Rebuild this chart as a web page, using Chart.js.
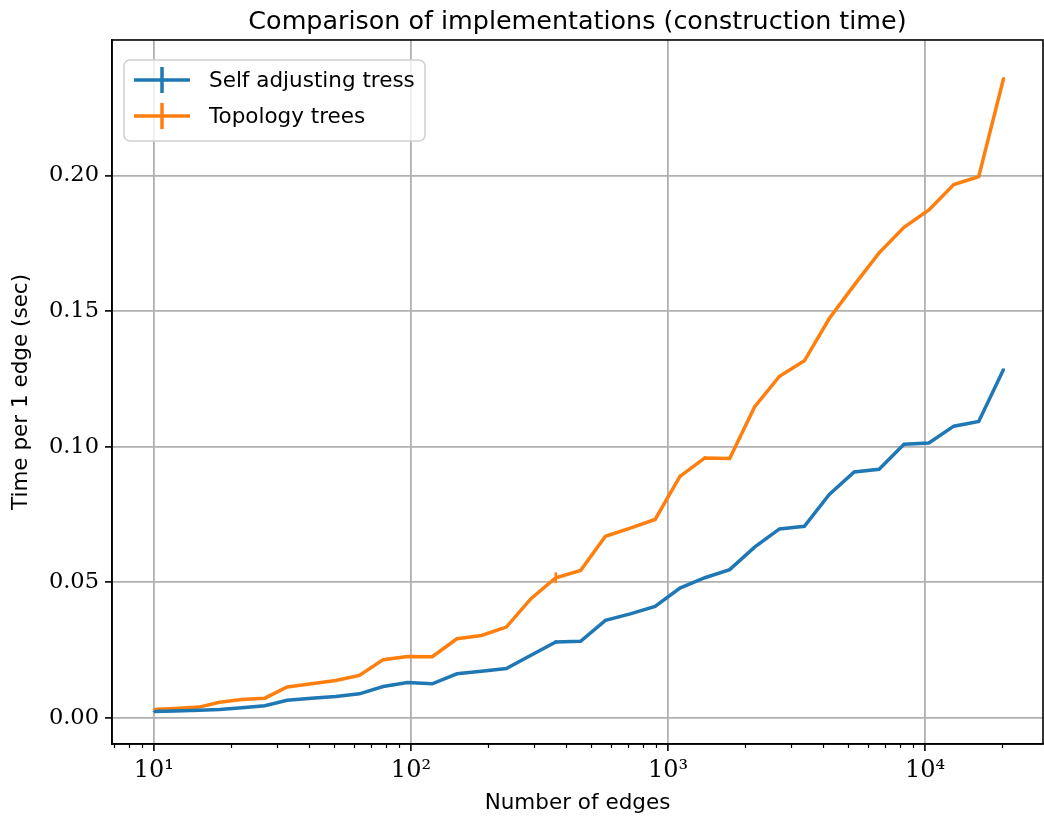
<!DOCTYPE html>
<html>
<head>
<meta charset="utf-8">
<script src="https://cdn.jsdelivr.net/npm/chart.js@4"></script>
<style>
  html, body { margin: 0; padding: 0; background: #fff; }
  canvas { display: block; }
</style>
</head>
<body>
<canvas id="chart" width="1044" height="819"></canvas>
<script>
// number of edges (each step is int(n * 1.25))
const edges = [10, 12, 15, 18, 22, 27, 33, 41, 51, 63, 78, 97, 121, 151, 188, 235, 293, 366,
  457, 571, 713, 891, 1113, 1391, 1738, 2172, 2715, 3393, 4241, 5301, 6626, 8282, 10352,
  12940, 16175, 20218];

const selfAdjusting = [0.0024, 0.0026, 0.0028, 0.0031, 0.0038, 0.0045, 0.0065, 0.0073, 0.0079,
  0.0089, 0.0116, 0.0131, 0.0126, 0.0163, 0.0172, 0.0182, 0.0231, 0.0280, 0.0283, 0.0360,
  0.0384, 0.0411, 0.0479, 0.0517, 0.0547, 0.0630, 0.0697, 0.0707, 0.0824, 0.0907, 0.0917,
  0.1009, 0.1014, 0.1076, 0.1093, 0.1286];
const selfAdjustingErr = [0.0002, 0.0002, 0.0002, 0.0002, 0.0002, 0.0002, 0.0002, 0.0002, 0.0002,
  0.0002, 0.0002, 0.0002, 0.0002, 0.0002, 0.0002, 0.0002, 0.0003, 0.0006, 0.0003, 0.0003,
  0.0003, 0.0003, 0.0003, 0.0003, 0.0003, 0.0003, 0.0003, 0.0003, 0.0003, 0.0003, 0.0003,
  0.0003, 0.0003, 0.0003, 0.0003, 0.0003];

const topology = [0.0031, 0.0035, 0.0040, 0.0058, 0.0068, 0.0073, 0.0114, 0.0126, 0.0138,
  0.0157, 0.0215, 0.0227, 0.0226, 0.0292, 0.0304, 0.0335, 0.0440, 0.0517, 0.0544, 0.0670,
  0.0700, 0.0732, 0.0891, 0.0959, 0.0957, 0.1147, 0.1260, 0.1317, 0.1473, 0.1596, 0.1715,
  0.1809, 0.1873, 0.1967, 0.1996, 0.2359];
const topologyErr = [0.0002, 0.0002, 0.0002, 0.0002, 0.0002, 0.0002, 0.0002, 0.0002, 0.0002,
  0.0002, 0.0002, 0.0002, 0.0002, 0.0002, 0.0002, 0.0002, 0.0003, 0.0020, 0.0003, 0.0004,
  0.0003, 0.0003, 0.0006, 0.0006, 0.0006, 0.0005, 0.0004, 0.0004, 0.0006, 0.0004, 0.0004,
  0.0004, 0.0004, 0.0004, 0.0004, 0.0004];

const yTicks = [0, 0.05, 0.10, 0.15, 0.20];
const xTicks = [10, 100, 1000, 10000];

const BLUE = '#1f77b4';
const ORANGE = '#ff7f0e';
const SANS = '"DejaVu Sans", sans-serif';
const SERIF = '"DejaVu Serif", serif';
const sup = { 1: '\u00b9', 2: '\u00b2', 3: '\u00b3', 4: '\u2074' };

// error bars, no caps (like plt.errorbar default)
const errorBars = {
  id: 'errorBars',
  afterDatasetsDraw(chart) {
    const { ctx, scales: { x, y } } = chart;
    chart.data.datasets.forEach((ds) => {
      if (!ds.errors) return;
      ctx.save();
      ctx.strokeStyle = ds.borderColor;
      ctx.lineWidth = 2.5;
      ds.data.forEach((p, j) => {
        const px = x.getPixelForValue(p.x);
        ctx.beginPath();
        ctx.moveTo(px, y.getPixelForValue(p.y - ds.errors[j]));
        ctx.lineTo(px, y.getPixelForValue(p.y + ds.errors[j]));
        ctx.stroke();
      });
      ctx.restore();
    });
  }
};

// top/right spines, minor log ticks and the legend box
const decorations = {
  id: 'decorations',
  afterDraw(chart) {
    const { ctx, chartArea: a, scales: { x } } = chart;
    ctx.save();
    ctx.strokeStyle = '#000';
    ctx.lineWidth = 1.6;
    ctx.strokeRect(a.left, a.top, a.right - a.left, a.bottom - a.top);

    ctx.lineWidth = 1.2;
    for (let e = 0; e <= 4; e++) {
      for (let m = 2; m <= 9; m++) {
        const v = m * Math.pow(10, e);
        if (v < x.min || v > x.max) continue;
        const px = Math.round(x.getPixelForValue(v)) + 0.5;
        ctx.beginPath();
        ctx.moveTo(px, a.bottom);
        ctx.lineTo(px, a.bottom + 4);
        ctx.stroke();
      }
    }

    // legend
    const bx = a.left + 12, by = a.top + 20, bw = 301, bh = 81;
    ctx.beginPath();
    ctx.roundRect(bx, by, bw, bh, 6);
    ctx.fillStyle = 'rgba(255,255,255,0.8)';
    ctx.fill();
    ctx.strokeStyle = '#d0d0d0';
    ctx.lineWidth = 1.5;
    ctx.stroke();
    chart.data.datasets.forEach((ds, i) => {
      const cy = by + 20 + i * 36;
      ctx.strokeStyle = ds.borderColor;
      ctx.lineWidth = 3.5;
      ctx.beginPath();
      ctx.moveTo(bx + 10, cy);
      ctx.lineTo(bx + 66, cy);
      ctx.moveTo(bx + 38, cy - 13);
      ctx.lineTo(bx + 38, cy + 13);
      ctx.stroke();
      ctx.fillStyle = '#000';
      ctx.font = '21.5px ' + SANS;
      ctx.textBaseline = 'middle';
      ctx.fillText(ds.label, bx + 85, cy + 1);
    });
    ctx.restore();
  }
};

new Chart(document.getElementById('chart'), {
  type: 'line',
  data: {
    datasets: [
      {
        label: 'Self adjusting tress',
        data: edges.map((e, i) => ({ x: e, y: selfAdjusting[i] })),
        errors: selfAdjustingErr,
        borderColor: BLUE,
        backgroundColor: BLUE,
        borderWidth: 3.5
      },
      {
        label: 'Topology trees',
        data: edges.map((e, i) => ({ x: e, y: topology[i] })),
        errors: topologyErr,
        borderColor: ORANGE,
        backgroundColor: ORANGE,
        borderWidth: 3.5
      }
    ]
  },
  options: {
    responsive: false,
    animation: false,
    devicePixelRatio: 1,
    layout: { padding: { top: 0, right: 1, left: 0, bottom: 0 } },
    elements: { point: { radius: 0 }, line: { tension: 0 } },
    plugins: {
      legend: { display: false },
      tooltip: { enabled: false },
      title: {
        display: true,
        text: 'Comparison of implementations (construction time)',
        fullSize: false,
        color: '#000',
        font: { family: SANS, size: 25.4, weight: 'normal', lineHeight: 1.2 },
        padding: { top: 7, bottom: 2.5 }
      }
    },
    scales: {
      x: {
        type: 'logarithmic',
        min: 6.87,
        max: 28770,
        afterBuildTicks: (s) => { s.ticks = xTicks.map(v => ({ value: v })); },
        afterFit: (s) => { s.height = 75; },
        ticks: {
          color: '#000',
          font: { family: SERIF, size: 24 },
          padding: 5,
          maxRotation: 0,
          autoSkip: false,
          callback: (v) => '10' + sup[Math.round(Math.log10(v))]
        },
        grid: { color: '#b0b0b0', lineWidth: 1.8, tickColor: '#000', tickLength: 7, tickWidth: 1.6 },
        border: { color: '#000', width: 1.6 },
        title: {
          display: true,
          text: 'Number of edges',
          color: '#000',
          font: { family: SANS, size: 21.5 },
          padding: { top: 2, bottom: 3 }
        }
      },
      y: {
        min: -0.0096,
        max: 0.25,
        afterBuildTicks: (s) => { s.ticks = yTicks.map(v => ({ value: v })); },
        afterFit: (s) => { s.width = 112; },
        ticks: {
          color: '#000',
          font: { family: SERIF, size: 22.5 },
          padding: 6,
          callback: (v) => v.toFixed(2)
        },
        grid: { color: '#b0b0b0', lineWidth: 1.8, tickColor: '#000', tickLength: 7, tickWidth: 1.6 },
        border: { color: '#000', width: 1.6 },
        title: {
          display: true,
          text: 'Time per 1 edge (sec)',
          color: '#000',
          font: { family: SANS, size: 21.5 },
          padding: { top: 9, bottom: 4 }
        }
      }
    }
  },
  plugins: [errorBars, decorations]
});
</script>
</body>
</html>
